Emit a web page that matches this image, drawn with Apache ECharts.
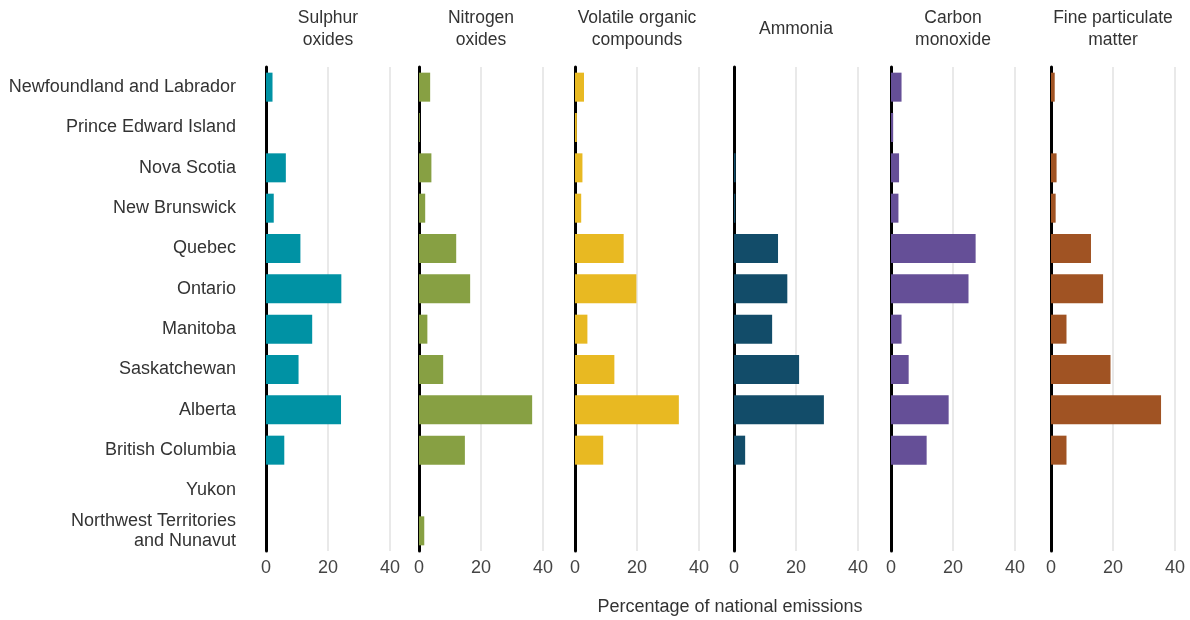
<!DOCTYPE html>
<html>
<head>
<meta charset="utf-8">
<script src="https://cdn.jsdelivr.net/npm/echarts@6/dist/echarts.min.js"></script>
<style>
  html, body { margin: 0; padding: 0; background: #fff; }
  #chart { width: 1190px; height: 620px; }
</style>
</head>
<body>
<div id="chart"></div>
<script>
// provinces / territories, top to bottom
var regions = [
  "Newfoundland and Labrador", "Prince Edward Island", "Nova Scotia", "New Brunswick",
  "Quebec", "Ontario", "Manitoba", "Saskatchewan", "Alberta", "British Columbia",
  "Yukon", "Northwest Territories\nand Nunavut"
];

var pollutants = ["Sulphur\noxides", "Nitrogen\noxides", "Volatile organic\ncompounds",
  "Ammonia", "Carbon\nmonoxide", "Fine particulate\nmatter"];

// percentage of national emissions, same order as regions
var sulphurOxides  = [2.1, 0, 6.4, 2.5, 11.1, 24.3, 14.9, 10.5, 24.2, 5.9, 0, 0];
var nitrogenOxides = [3.6, 0.3, 4.0, 2.0, 12.0, 16.5, 2.7, 7.8, 36.5, 14.8, 0, 1.7];
var voc            = [2.9, 0.6, 2.4, 2.0, 15.7, 19.8, 4.0, 12.7, 33.5, 9.1, 0, 0];
var ammonia        = [0, 0, 0.5, 0.4, 14.2, 17.2, 12.3, 21.0, 29.0, 3.6, 0, 0];
var carbonMonoxide = [3.4, 0.7, 2.6, 2.4, 27.3, 25.0, 3.4, 5.7, 18.6, 11.5, 0, 0];
var finePM         = [1.2, 0, 1.8, 1.5, 12.9, 16.8, 5.0, 19.2, 35.5, 5.0, 0, 0];

var xTicks = [0, 20, 40];

var allData = [sulphurOxides, nitrogenOxides, voc, ammonia, carbonMonoxide, finePM];
var colors = ["#0092a4", "#87a043", "#e8b922", "#124c69", "#654f97", "#a05323"];
var panelLeft = [266, 419, 575, 734, 891, 1051];
var panelWidth = 124;

var myChart = echarts.init(document.getElementById("chart"));

var grids = [], xAxes = [], yAxes = [], series = [], graphics = [];
for (var i = 0; i < allData.length; i++) {
  grids.push({ left: panelLeft[i], width: panelWidth, top: 67, height: 484 });
  xAxes.push({
    type: "value", gridIndex: i, min: xTicks[0], max: xTicks[xTicks.length - 1], interval: 20,
    axisLine: { show: false }, axisTick: { show: false },
    axisLabel: { fontSize: 18, color: "#444", margin: 8, fontFamily: "Liberation Sans" },
    splitLine: { show: true, lineStyle: { color: "#e2e2e2", width: 1.5 } }
  });
  yAxes.push({
    type: "category", gridIndex: i, data: regions, inverse: true,
    axisLine: { show: true, lineStyle: { color: "#000", width: 3 } },
    axisTick: { show: false },
    axisLabel: {
      show: i === 0, fontSize: 18, color: "#333", margin: 30, lineHeight: 20,
      fontFamily: "Liberation Sans"
    },
    splitLine: { show: false }
  });
  series.push({
    type: "bar", xAxisIndex: i, yAxisIndex: i, data: allData[i],
    barWidth: 29, itemStyle: { color: colors[i] }, z: 1
  });
  graphics.push({
    type: "text", x: panelLeft[i] + panelWidth / 2, y: 29,
    style: {
      text: pollutants[i], fill: "#333", font: "17.5px 'Liberation Sans'",
      textAlign: "center", textVerticalAlign: "middle", lineHeight: 22
    }
  });
}

graphics.push({
  type: "text", x: 730, y: 607,
  style: {
    text: "Percentage of national emissions", fill: "#333", font: "18px 'Liberation Sans'",
    textAlign: "center", textVerticalAlign: "middle"
  }
});

var option = {
  animation: false,
  textStyle: { fontFamily: "Liberation Sans" },
  grid: grids,
  xAxis: xAxes,
  yAxis: yAxes,
  series: series,
  graphic: graphics
};
myChart.setOption(option);
</script>
</body>
</html>
